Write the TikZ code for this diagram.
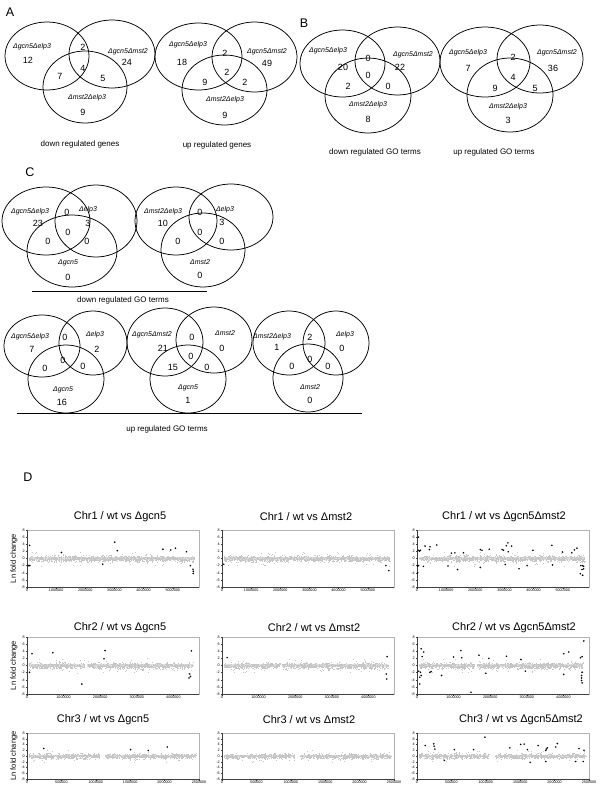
\documentclass[tikz,border=0pt]{standalone}
\usepackage{fontspec}
\setmainfont{Liberation Sans}
\usetikzlibrary{positioning}

\tikzset{
  lab/.style={font=\fontsize{7}{8}\selectfont\itshape, inner sep=0pt},
  num/.style={font=\fontsize{9}{10}\selectfont, inner sep=0pt},
  capt/.style={font=\fontsize{8}{9}\selectfont, inner sep=0pt},
  panel/.style={font=\fontsize{12.5}{14}\selectfont, inner sep=0pt},
  ttl/.style={font=\fontsize{11}{13}\selectfont, inner sep=0pt},
  tick/.style={font=\fontsize{3.7}{4}\selectfont, inner sep=0.6pt},
  ylab/.style={font=\fontsize{7.5}{8}\selectfont, rotate=90, inner sep=0pt},
  ring/.style={line width=0.75pt},
  frame/.style={draw=gray!60, line width=0.45pt},
  axis/.style={draw=black!75, line width=0.4pt},
  gdot/.style={fill=gray!45},
  gstrip/.style={fill=gray!25},
  bdot/.style={fill=black},
}

% frame of one chromosome plot: left, top, height, tick step, tick labels
\newcommand{\chrframe}[5]{%
  \draw[frame] (#1,#2) rectangle ++(172,#3);
  \draw[axis] (#1,#2) -- ++(0,#3) -- ++(172,0);
  \foreach \v [count=\j from 0] in {8,6,4,2,0,-2,-4,-6,-8}
    \draw[axis] (#1,#2+\j*#3/8) -- ++(-1.5,0) node[tick,left] {\v};
  \foreach \t [count=\j from 0] in {#5}
    \draw[axis] (#1+\j*#4,#2+#3) -- ++(0,1.5) node[tick,below] {\t};
}
% grey cloud: left, zero line, px per unit, data end, gap from, gap to
\newcommand{\band}[6]{%
  \fill[gstrip] ({#1+172*0.01},{#2-0.5*#3}) rectangle ({#1+172*min(#4,#5)},{#2+0.5*#3});
  \ifdim#6pt<#4pt
    \fill[gstrip] ({#1+172*#6},{#2-0.5*#3}) rectangle ({#1+172*#4},{#2+0.5*#3});
  \fi
  \foreach \i in {1,...,850}{%
    \pgfmathsetmacro\fx{0.01+rnd*(#4-0.01)}%
    \pgfmathsetmacro\fy{(rand+rand+rand)*0.42}%
    \pgfmathtruncatemacro\ingap{and(\fx>#5,\fx<#6)}%
    \ifnum\ingap=0 \fill[gdot] ({#1+172*\fx},{#2-(\fy)*#3}) rectangle ++(1.1,1.1);\fi
  }%
  \foreach \i in {1,...,50}{%
    \pgfmathsetmacro\fx{0.01+rnd*(#4-0.01)}%
    \pgfmathsetmacro\fy{rand*2}%
    \pgfmathtruncatemacro\ingap{and(\fx>#5,\fx<#6)}%
    \ifnum\ingap=0 \fill[gdot] ({#1+172*\fx},{#2-(\fy)*#3}) rectangle ++(1,1);\fi
  }}
% black points: left, zero line, px per unit, list frac/value
\newcommand{\hits}[4]{%
  \foreach \a/\b in {#4}
    \fill[bdot] ({#1+172*\a},{#2-(\b)*#3}) circle (0.9pt);}

\begin{document}
\begin{tikzpicture}[x=1pt, y=-1pt]
        \pgfmathsetseed{7}
        \useasboundingbox (0,0) rectangle (600,812);

        % A
        \node[panel] (pA) at (10,12) {A};
        \draw[ring] (47,56) ellipse [x radius=42pt, y radius=34pt];
        \draw[ring] (112,54) ellipse [x radius=43pt, y radius=34pt];
        \draw[ring] (85,87) ellipse [x radius=42pt, y radius=36pt];
        \node[lab] (dgA) at (32,47) {Δgcn5Δelp3};
        \node[lab] (dgB) at (128,52) {Δgcn5Δmst2};
        \node[lab] (dgC) at (87,98) {Δmst2Δelp3};
        \foreach \x/\y/\t [count=\k] in {28/60/12, 83/47/2, 127/62/24, 60/76/7, 83/68/4, 103/78/5, 83/112/9}
            \node[num] (dg\k) at (\x,\y) {\t};
        \node[capt] (dgcap) at (80,144) {down regulated genes};

        \draw[ring] (198.5,56.5) ellipse [x radius=43.5pt, y radius=33.5pt];
        \draw[ring] (254.5,57) ellipse [x radius=42.5pt, y radius=35pt];
        \draw[ring] (224.5,90) ellipse [x radius=42.5pt, y radius=35pt];
        \node[lab] (ugA) at (188,45) {Δgcn5Δelp3};
        \node[lab] (ugB) at (267,52) {Δgcn5Δmst2};
        \node[lab] (ugC) at (225,100) {Δmst2Δelp3};
        \foreach \x/\y/\t [count=\k] in {182/62/18, 225/53/2, 267/63/49, 205/82/9, 227/72/2, 245/82/2, 225/115/9}
            \node[num] (ug\k) at (\x,\y) {\t};
        \node[capt] (ugcap) at (217,145) {up regulated genes};

        % B
        \node[panel] (pB) at (304,23) {B};
        \draw[ring] (342.5,63.5) ellipse [x radius=42.5pt, y radius=33.5pt];
        \draw[ring] (397.5,61) ellipse [x radius=42.5pt, y radius=34pt];
        \draw[ring] (368,95.5) ellipse [x radius=43pt, y radius=37.5pt];
        \node[lab] (dtA) at (328,51) {Δgcn5Δelp3};
        \node[lab] (dtB) at (413,55) {Δgcn5Δmst2};
        \node[lab] (dtC) at (368,105) {Δmst2Δelp3};
        \foreach \x/\y/\t [count=\k] in {343/67/20, 368/58/0, 400/67/22, 368/75/0, 348/86/2, 388/86/0, 368/119/8}
            \node[num] (dt\k) at (\x,\y) {\t};
        \node[capt] (dtcap) at (375,152) {down regulated GO terms};

        \draw[ring] (485,62) ellipse [x radius=45pt, y radius=35pt];
        \draw[ring] (540,59) ellipse [x radius=43pt, y radius=34pt];
        \draw[ring] (510,95) ellipse [x radius=43pt, y radius=37pt];
        \node[lab] (utA) at (468,53) {Δgcn5Δelp3};
        \node[lab] (utB) at (557,53) {Δgcn5Δmst2};
        \node[lab] (utC) at (508,107) {Δmst2Δelp3};
        \foreach \x/\y/\t [count=\k] in {468/68/7, 513/57/2, 553/68/36, 513/77/4, 495/88/9, 535/88/5, 508/120/3}
            \node[num] (ut\k) at (\x,\y) {\t};
        \node[capt] (utcap) at (494,152) {up regulated GO terms};

        % C
        \node[panel] (pC) at (30,172) {C};
        \draw[ring] (46,221) ellipse [x radius=44pt, y radius=34pt];
        \draw[ring] (96,221) ellipse [x radius=41pt, y radius=36pt];
        \draw[ring] (72,251) ellipse [x radius=45pt, y radius=36pt];
        \node[lab] (c1A) at (30,212) {Δgcn5Δelp3};
        \node[lab] (c1B) at (88,210) {Δelp3};
        \node[lab] (c1C) at (68,263) {Δgcn5};
        \foreach \x/\y/\t [count=\k] in {38/223/23, 67/212/0, 88/223/3, 68/232/0, 48/241/0, 87/241/0, 68/277/0}
            \node[num] (c1\k) at (\x,\y) {\t};

        \draw[ring] (176,221) ellipse [x radius=41pt, y radius=34pt];
        \draw[ring] (231,217) ellipse [x radius=42pt, y radius=33pt];
        \draw[ring] (203,250) ellipse [x radius=42pt, y radius=37pt];
        \node[lab] (c2A) at (163,212) {Δmst2Δelp3};
        \node[lab] (c2B) at (225,210) {Δelp3};
        \node[lab] (c2C) at (200,262) {Δmst2};
        \foreach \x/\y/\t [count=\k] in {163/223/10, 200/212/0, 222/222/3, 200/232/0, 178/241/0, 222/241/0, 200/275/0}
            \node[num] (c2\k) at (\x,\y) {\t};

        \coordinate (dl0) at (32,291);
        \coordinate (dl1) at (207,291);
        \draw[line width=0.8pt] (dl0) -- (dl1);
        \node[capt] (ctcap) at (123,300) {down regulated GO terms};

        \draw[ring] (42,346) ellipse [x radius=38pt, y radius=31pt];
        \draw[ring] (93,343) ellipse [x radius=34pt, y radius=32pt];
        \draw[ring] (66,379) ellipse [x radius=38pt, y radius=34pt];
        \node[lab] (c3A) at (30,337) {Δgcn5Δelp3};
        \node[lab] (c3B) at (95,335) {Δelp3};
        \node[lab] (c3C) at (63,390) {Δgcn5};
        \foreach \x/\y/\t [count=\k] in {32/349/7, 65/337/0, 97/349/2, 63/360/0, 45/368/0, 83/366/0, 62/402/16}
            \node[num] (c3\k) at (\x,\y) {\t};

        \draw[ring] (165,342) ellipse [x radius=38pt, y radius=34pt];
        \draw[ring] (214,340) ellipse [x radius=38pt, y radius=33pt];
        \draw[ring] (188,379) ellipse [x radius=38pt, y radius=34pt];
        \node[lab] (c4A) at (152,335) {Δgcn5Δmst2};
        \node[lab] (c4B) at (225,333) {Δmst2};
        \node[lab] (c4C) at (188,388) {Δgcn5};
        \foreach \x/\y/\t [count=\k] in {163/348/21, 192/337/0, 222/348/0, 191/356/0, 173/367/15, 207/367/0, 188/400/1}
            \node[num] (c4\k) at (\x,\y) {\t};

        \draw[ring] (289,343) ellipse [x radius=36pt, y radius=32pt];
        \draw[ring] (336,343) ellipse [x radius=33pt, y radius=32pt];
        \draw[ring] (308,378) ellipse [x radius=35pt, y radius=34pt];
        \node[lab] (c5A) at (272,337) {Δmst2Δelp3};
        \node[lab] (c5B) at (345,335) {Δelp3};
        \node[lab] (c5C) at (310,387) {Δmst2};
        \foreach \x/\y/\t [count=\k] in {277/347/1, 310/337/2, 342/348/0, 310/359/0, 292/366/0, 328/366/0, 310/400/0}
            \node[num] (c5\k) at (\x,\y) {\t};

        \coordinate (ul0) at (17,413);
        \coordinate (ul1) at (362,413);
        \draw[line width=0.8pt] (ul0) -- (ul1);
        \node[capt] (cbcap) at (167,429) {up regulated GO terms};

        % D
        \node[panel] (pD) at (28,477) {D};
        \foreach \r/\y in {1/558.5, 2/665.5}
            \node[ylab] (ln\r) at (14,\y) {Ln fold change};
        \node[ylab] (ln3) at (14,756) {Ln fold change};

        % Chr1
        \node[ttl] (t11) at (120,517) {Chr1 / wt vs Δgcn5};
        \node[ttl] (t12) at (306,517) {Chr1 / wt vs Δmst2};
        \node[ttl] (t13) at (504,517) {Chr1 / wt vs Δgcn5Δmst2};
        \foreach \l in {27,222,417}{
            \band{\l}{558.5}{3.56}{0.975}{2}{2}
            \chrframe{\l}{530}{57}{29.15}{0,1000000,2000000,3000000,4000000,5000000}
        }
        \hits{27}{558.5}{3.56}{0.015/3.7, 0.008/-2, 0.016/-2, 0.2/1.7, 0.51/4.6, 0.525/2.2, 0.44/-1.6,
            0.79/2.6, 0.836/2.4, 0.863/2.9, 0.927/1.9, 0.95/-2, 0.965/-3, 0.967/-3.6, 0.967/-4.2}
        \hits{222}{558.5}{3.56}{0.01/-1.6, 0.953/-2, 0.97/-3.4}
        \hits{417}{558.5}{3.56}{0.008/6, 0.008/2.3, 0.014/2.1, 0.02/2.3, 0.003/-2.1, 0.009/-2, 0.004/-4,
            0.037/-2.2, 0.047/3.5, 0.072/2.5, 0.076/3.3, 0.115/3.8, 0.18/-2.1, 0.2/1.5, 0.22/1.6,
            0.236/-3.1, 0.27/1.6, 0.368/2.5, 0.378/2.3, 0.368/-2.5, 0.42/2.6, 0.495/2.5, 0.503/2.3,
            0.513/-1.7, 0.519/3.6, 0.528/4.4, 0.53/1.9, 0.55/3.5, 0.593/-2.9, 0.64/-2, 0.674/2.3,
            0.784/3.7, 0.788/-1.8, 0.846/1.8, 0.9/1.6, 0.915/2.4, 0.93/2.9, 0.953/-2, 0.963/-2,
            0.969/-2.2, 0.959/-3.1, 0.969/-2.9, 0.949/-4.3, 0.963/-4.7}

        % Chr2
        \node[ttl] (t21) at (120,628) {Chr2 / wt vs Δgcn5};
        \node[ttl] (t22) at (314,628) {Chr2 / wt vs Δmst2};
        \node[ttl] (t23) at (514,628) {Chr2 / wt vs Δgcn5Δmst2};
        \foreach \l in {27,222,417}{
            \band{\l}{665.5}{3.56}{0.965}{0.335}{0.35}
            \chrframe{\l}{637}{57}{36.6}{0,1000000,2000000,3000000,4000000}
        }
        \hits{27}{665.5}{3.56}{0.015/-1.9, 0.029/3.3, 0.15/3.6, 0.319/-5.2, 0.454/4.2, 0.448/1.9,
            0.956/4.1, 0.946/-2.4, 0.95/-3.1, 0.942/-3.5}
        \hits{222}{665.5}{3.56}{0.03/2.2, 0.96/2.5, 0.955/-2.4, 0.958/-3.8}
        \hits{417}{665.5}{3.56}{0.016/-5.2, 0.024/4.7, 0.039/3.8, 0.03/2.5, 0.01/-1.6, 0.02/-1.9,
            0.024/-2.8, 0.016/-3.3, 0.075/-1.9, 0.082/-1.7, 0.143/-2.8, 0.212/2.4, 0.255/4.2,
            0.26/2.2, 0.36/2.9, 0.4/-2.2, 0.418/2, 0.52/2.6, 0.604/1.7, 0.63/-1.6, 0.853/-2.5,
            0.853/3.3, 0.882/3.8, 0.951/2.2, 0.96/2.5, 0.97/6.9, 0.96/-1.9, 0.957/-2.8,
            0.957/-3.5, 0.957/-4.2, 0.96/-4.9, 0.314/-7.5}

        % Chr3
        \node[ttl] (t31) at (103,720) {Chr3 / wt vs Δgcn5};
        \node[ttl] (t32) at (309,720) {Chr3 / wt vs Δmst2};
        \node[ttl] (t33) at (521,720) {Chr3 / wt vs Δgcn5Δmst2};
        \foreach \l in {27,222,417}{
            \band{\l}{756}{2.9}{0.98}{0.42}{0.455}
            \chrframe{\l}{733}{46}{34.4}{0,500000,1000000,1500000,2000000,2500000}
        }
        \hits{27}{756}{2.9}{0.097/2.6, 0.602/2.2, 0.705/1.9, 0.815/3.1}
        \hits{417}{756}{2.9}{0.048/3.6, 0.097/4.2, 0.1/3.4, 0.104/2.4, 0.159/-1.5, 0.217/2.2,
            0.329/2.2, 0.395/6.5, 0.54/2.8, 0.603/4, 0.623/4.1, 0.642/2.2, 0.658/-2.2, 0.704/3.6,
            0.749/1.9, 0.752/2.4, 0.758/2.8, 0.749/-1.9, 0.807/3.1, 0.816/4.3, 0.923/-1.9,
            0.942/2.6, 0.971/2, 0.967/-1.9}
    \end{tikzpicture}
\end{document}
